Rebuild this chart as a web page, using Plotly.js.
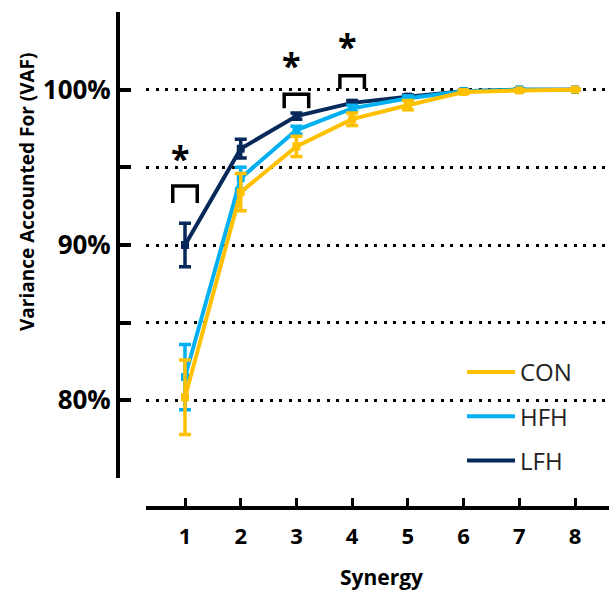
<!DOCTYPE html>
<html><head><meta charset="utf-8">
<script src="https://cdn.plot.ly/plotly-3.0.1.min.js"></script>
<style>html,body{margin:0;padding:0;background:#fff}#c{width:609px;height:593px}</style>
</head><body><div id="c"></div>
<script>
const synergy = [1,2,3,4,5,6,7,8];
const conMean = [80.2, 93.4, 96.35, 98.1, 99.0, 99.85, 99.95, 100];
const conErr  = [2.4, 1.2, 0.65, 0.4, 0.3, 0.1, 0.05, 0.02];
const hfhMean = [81.5, 94.3, 97.4, 98.8, 99.45, 99.9, 100, 100];
const hfhErr  = [2.1, 0.7, 0.25, 0.2, 0.15, 0.05, 0.02, 0.01];
const lfhMean = [90.0, 96.2, 98.3, 99.15, 99.55, 99.9, 100, 100];
const lfhErr  = [1.4, 0.6, 0.2, 0.15, 0.1, 0.05, 0.02, 0.01];
const yTickVals = [80, 85, 90, 95, 100];
const yTickText = ['80%', '', '90%', '', '100%'];
const sigX = [1, 3, 4];
const sigBracketLow = [92.7, 98.8, 100.05];
const sigBracketHigh = [93.8, 99.7, 100.9];
const sigStarY = [95.6, 101.6, 102.8];

const colors = {CON:'#FFC000', HFH:'#00B0F0', LFH:'#06295A'};
function series(name, mean, err, rank){
  return [{
    x: synergy, y: mean, name: name, mode: 'lines', legendrank: rank,
    legendgroup: name,
    line: {color: colors[name], width: 4},
    error_y: {type:'data', array: err, visible: true, color: colors[name], thickness: 3.5, width: 6}
  },{
    x: synergy, y: mean, mode: 'markers', showlegend: false, legendgroup: name, hoverinfo:'skip',
    marker: {color: colors[name], symbol: 'square', size: 8}
  }];
}
const traces = [].concat(series('LFH', lfhMean, lfhErr, 3), series('HFH', hfhMean, hfhErr, 2), series('CON', conMean, conErr, 1));
// significance brackets
const bx = [], by = [];
sigX.forEach((x,i)=>{ bx.push(x-0.22, x-0.22, x+0.22, x+0.22, null); by.push(sigBracketLow[i], sigBracketHigh[i], sigBracketHigh[i], sigBracketLow[i], null); });
traces.push({x: bx, y: by, mode: 'lines', line:{color:'#000', width:3.5}, showlegend:false, hoverinfo:'skip'});

const W = 609, H = 593;
const annotations = sigX.map((x,i)=>({x: x-0.08, y: sigStarY[i], xref:'x', yref:'y', text:'*', showarrow:false,
  font:{family:'Open Sans', size:34, color:'#000', weight:700}}));
annotations.push({x: 27/W, y: 1-192/H, xref:'paper', yref:'paper', xanchor:'center', yanchor:'middle',
  text:'Variance Accounted For (VAF)', textangle:-90,
  showarrow:false, font:{family:'Open Sans', size:19, color:'#000', weight:700}});
annotations.push({x: 381/W, y: 1-577/H, xref:'paper', yref:'paper', xanchor:'center', yanchor:'middle', text:'Synergy',
  showarrow:false, font:{family:'Open Sans', size:21, color:'#000', weight:700}});

const layout = {
  width: W, height: H, margin:{l:0,r:0,t:0,b:0}, paper_bgcolor:'#fff', plot_bgcolor:'rgba(0,0,0,0)',
  showlegend: true,
  legend: {x: 462/W, y: 1-350/H, xanchor:'left', yanchor:'top', traceorder:'grouped', tracegroupgap: 10,
    font:{family:'Open Sans', size:24, color:'#222'}, bgcolor:'rgba(0,0,0,0)', itemwidth: 48},
  xaxis: {domain:[146/W, 1], anchor:'free', position: 1-508/H, range:[0.30, 8.61],
    tickvals: synergy, ticks:'inside', ticklen:8, tickwidth:3, tickcolor:'#000',
    showline:true, linewidth:4, linecolor:'#000', showgrid:false, zeroline:false,
    ticklabelstandoff: 8, tickfont:{family:'Open Sans', size:22, color:'#000', weight:700}},
  yaxis: {domain:[1-478/H, 1-12/H], anchor:'free', position: 118/W, range:[75, 105],
    tickvals: yTickVals, ticktext: yTickText, ticks:'inside', ticklen:11, tickwidth:4, tickcolor:'#000',
    showline:true, linewidth:4, linecolor:'#000', zeroline:false,
    showgrid:true, gridcolor:'#000', gridwidth:3, griddash:'3px,6.5px',
    tickfont:{family:'Open Sans', size:26, color:'#000', weight:700}},
  annotations: annotations
};
Plotly.newPlot('c', traces, layout, {displayModeBar:false, staticPlot:true});
</script></body></html>
